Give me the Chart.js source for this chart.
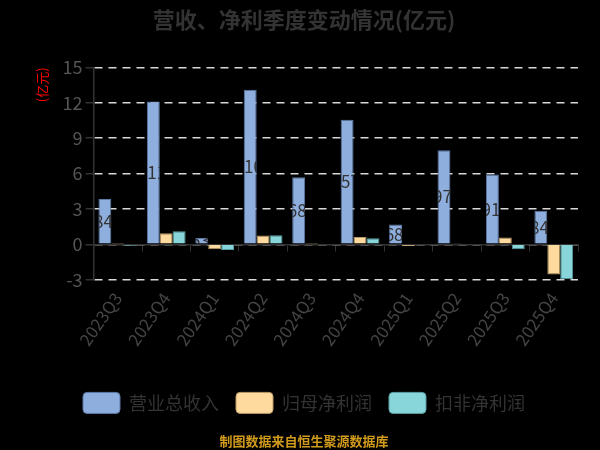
<!DOCTYPE html>
<html>
<head>
<meta charset="utf-8">
<script src="https://cdn.jsdelivr.net/npm/chart.js@4.4.1/dist/chart.umd.min.js"></script>
<style>
  html, body { margin: 0; padding: 0; background: #000; }
  #wrap { width: 600px; height: 450px; }
</style>
</head>
<body>
<div id="wrap"><canvas id="quarterChart"></canvas></div>
<script>
const quarters = ['2023Q3', '2023Q4', '2024Q1', '2024Q2', '2024Q3', '2024Q4', '2025Q1', '2025Q2', '2025Q3', '2025Q4'];
const revenue = [3.84, 12.11, 0.53, 13.10, 5.68, 10.57, 1.68, 7.97, 5.91, 2.84];
const netProfit = [0.02, 0.95, -0.42, 0.75, 0.02, 0.62, -0.15, 0.10, 0.58, -2.56];
const deductedProfit = [-0.12, 1.10, -0.48, 0.76, -0.05, 0.52, -0.06, 0.08, -0.42, -2.96];
const yTicks = [-3, 0, 3, 6, 9, 12, 15];

const cjk = '"Noto Sans CJK SC", "Noto Sans", sans-serif';

// revenue values in the middle of the blue bars; dark text, only readable over the bar
const barLabels = {
    id: 'barLabels',
    afterDatasetsDraw(chart) {
        const c = chart.ctx;
        const meta = chart.getDatasetMeta(0);
        c.save();
        c.font = '17px ' + cjk;
        c.textAlign = 'center';
        c.textBaseline = 'middle';
        c.fillStyle = '#333';
        meta.data.forEach((bar, i) => {
            const top = Math.min(bar.y, bar.base);
            const h = Math.abs(bar.base - bar.y);
            c.save();
            c.beginPath();
            c.rect(bar.x - bar.width / 2, top, bar.width, h);
            c.clip();
            c.fillText(revenue[i].toFixed(2) + '亿', bar.x, top + h / 2);
            c.restore();
        });
        c.restore();
    }
};

// black canvas background
const bg = {
    id: 'bg',
    beforeDraw(chart) {
        const c = chart.ctx;
        c.save();
        c.fillStyle = '#000';
        c.fillRect(0, 0, chart.width, chart.height);
        c.restore();
    }
};

new Chart(document.getElementById('quarterChart').getContext('2d'), {
    type: 'bar',
    data: {
        labels: quarters,
        datasets: [
            {
                label: '营业总收入',
                data: revenue,
                backgroundColor: '#8eaedd',
                borderColor: '#5c7aa8',
                borderWidth: 1
            },
            {
                label: '归母净利润',
                data: netProfit,
                backgroundColor: '#ffda9e',
                borderColor: '#b89a66',
                borderWidth: 1
            },
            {
                label: '扣非净利润',
                data: deductedProfit,
                backgroundColor: '#88d6da',
                borderColor: '#5a9fa3',
                borderWidth: 1
            }
        ]
    },
    options: {
        responsive: true,
        maintainAspectRatio: false,
        animation: false,
        datasets: {
            bar: { categoryPercentage: 0.8, barPercentage: 1 }
        },
        layout: { padding: { left: 30, right: 22, top: 4, bottom: 0 } },
        plugins: {
            title: {
                display: true,
                text: '营收、净利季度变动情况(亿元)',
                color: '#333',
                font: { family: cjk, size: 22, weight: 'bold' },
                padding: { top: 2, bottom: 35 }
            },
            subtitle: {
                display: true,
                position: 'bottom',
                text: '制图数据来自恒生聚源数据库',
                color: '#d09a1c',
                font: { family: cjk, size: 13, weight: 'bold' },
                padding: { top: 10, bottom: 1 }
            },
            legend: {
                position: 'bottom',
                labels: {
                    color: '#333',
                    font: { family: cjk, size: 18 },
                    boxWidth: 37,
                    boxHeight: 21,
                    useBorderRadius: true,
                    borderRadius: 4,
                    padding: 17
                }
            },
            tooltip: { enabled: false }
        },
        scales: {
            x: {
                grid: { display: false },
                border: { display: false },
                ticks: {
                    color: '#444',
                    font: { family: cjk, size: 17 },
                    minRotation: 55,
                    maxRotation: 55,
                    padding: 1
                },
                afterFit(axis) {
                    axis.height += 25;
                }
            },
            zero: {
                axis: 'x',
                type: 'category',
                labels: quarters,
                position: { y: 0 },
                grid: { drawOnChartArea: false, drawTicks: true, tickLength: 6, color: '#333', offset: true },
                border: { display: true, color: '#333', width: 1.5 },
                ticks: { display: false }
            },
            y: {
                min: -3,
                max: 15,
                afterBuildTicks(axis) {
                    axis.ticks = yTicks.map(v => ({ value: v }));
                },
                grid: {
                    color: '#d8d8d8',
                    lineWidth: 1.5,
                    drawTicks: true,
                    tickLength: 8,
                    tickColor: '#333'
                },
                border: { display: true, color: '#333', width: 1.5, dash: [8, 6] },
                ticks: {
                    color: '#555',
                    font: { family: cjk, size: 18 },
                    padding: 3
                },
                title: {
                    display: true,
                    text: '(亿元)',
                    color: '#ff0000',
                    align: 'end',
                    font: { family: cjk, size: 13 },
                    padding: { bottom: 10 }
                }
            }
        }
    },
    plugins: [bg, barLabels]
});
</script>
</body>
</html>
